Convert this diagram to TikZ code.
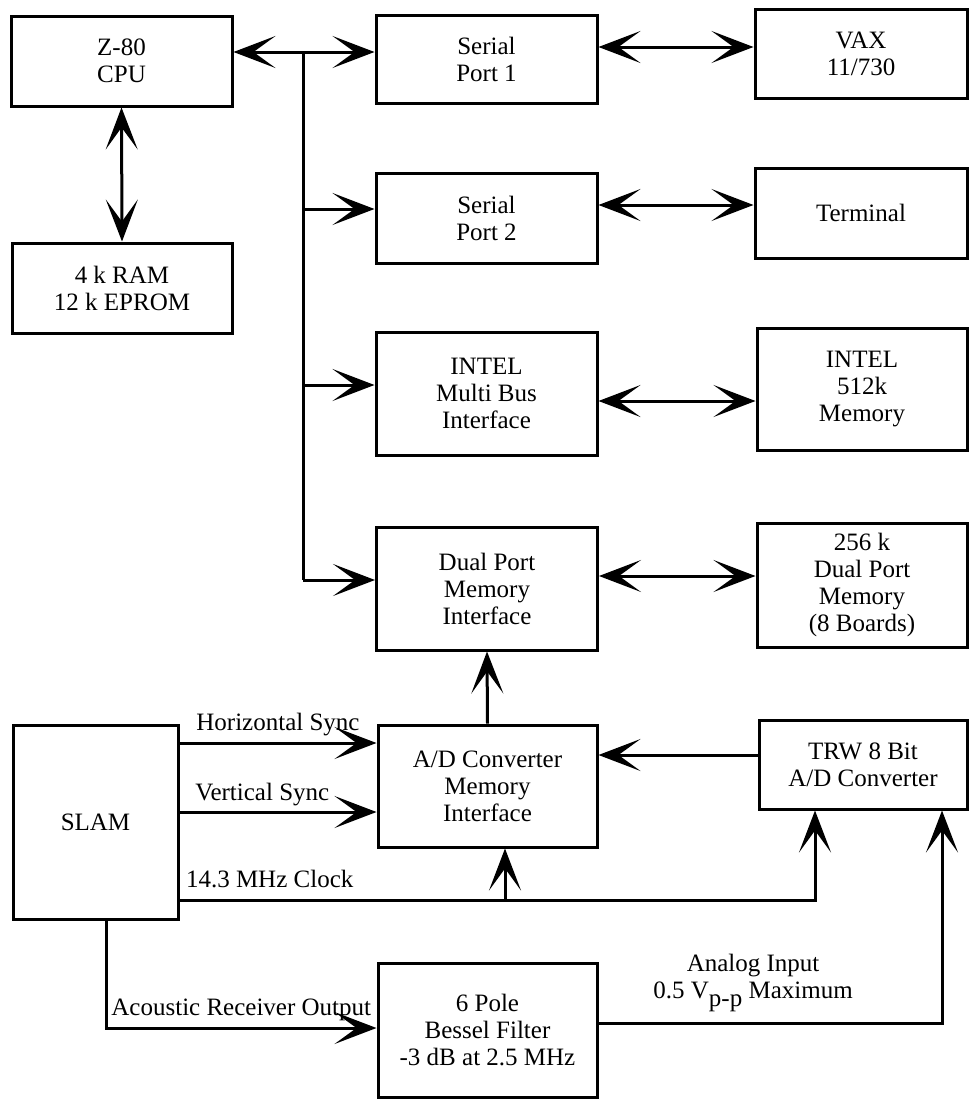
\documentclass[tikz,border=0pt]{standalone}
\usepackage{fontspec}
\setmainfont{Liberation Serif}
\usetikzlibrary{arrows.meta,positioning}

\tikzset{
  blk/.style={draw,line width=3pt,align=center,inner sep=0pt,font=\fontsize{25}{27}\selectfont},
  lbl/.style={align=center,inner sep=0pt,font=\fontsize{25}{27}\selectfont}
}

\begin{document}
\begin{tikzpicture}[x=1pt,y=-1pt,line width=3pt,>={Stealth[length=42pt,width=32pt,inset=22pt]}]
    \useasboundingbox (0,0) rectangle (973,1100);
    \node[blk,minimum width=221pt,minimum height=90pt] (cpu) at (121.5,61) {Z-80\\CPU};
    \node[blk,minimum width=220pt,minimum height=90pt] (ram) at (122,288) {4 k RAM\\12 k EPROM};
    \node[blk,minimum width=221pt,minimum height=88pt] (sp1) at (486.5,59) {Serial\\Port 1};
    \node[blk,minimum width=212pt,minimum height=89pt] (vax) at (861,53.5) {VAX\\11/730};
    \node[blk,minimum width=221pt,minimum height=90pt] (sp2) at (486.5,218) {Serial\\Port 2};
    \node[blk,minimum width=212pt,minimum height=90pt] (term) at (861,213) {Terminal};
    \node[blk,minimum width=221pt,minimum height=123pt] (mbi) at (486.5,393.5) {INTEL\\Multi Bus\\Interface};
    \node[blk,minimum width=210pt,minimum height=122pt] (intel) at (862,389) {INTEL\\512k\\Memory};
    \node[blk,minimum width=221pt,minimum height=123pt] (dpi) at (487,588.5) {Dual Port\\Memory\\Interface};
    \node[blk,minimum width=210pt,minimum height=124pt] (dpm) at (862,585) {256 k\\Dual Port\\Memory\\(8 Boards)};
    \node[blk,minimum width=219pt,minimum height=122pt] (adi) at (487.5,786) {A/D Converter\\Memory\\Interface};
    \node[blk,minimum width=208pt,minimum height=89pt] (trw) at (863,764.5) {TRW 8 Bit\\A/D Converter};
    \node[blk,minimum width=165pt,minimum height=194pt] (slam) at (95.5,822) {SLAM};
    \node[blk,minimum width=219pt,minimum height=134pt] (bes) at (487.5,1030) {6 Pole\\Bessel Filter\\-3 dB at 2.5 MHz};

    \coordinate (b1) at (303,52);
    \coordinate (b2) at (303,209);
    \coordinate (b3) at (303,385);
    \coordinate (b4) at (303,580);
    \coordinate (hs) at (0,743);
    \coordinate (vs) at (0,812);
    \coordinate (clk) at (815,900);
    \coordinate (ck2) at (505,900);
    \coordinate (aco) at (106,1028);
    \coordinate (ana) at (942,1023);

    \draw[<->] (cpu.south) -- (ram.north);
    \draw[<->] (cpu.east |- b1) -- (sp1.west |- b1);
    \draw (b1) -- (b4);
    \draw[->] (b2) -- (b2 -| sp2.west);
    \draw[->] (b3) -- (b3 -| mbi.west);
    \draw[->] (b4) -- (b4 -| dpi.west);

    \draw[<->] ([yshift=12pt]sp1.east) -- ([yshift=12pt]sp1.east -| vax.west);
    \draw[<->] ([yshift=13pt]sp2.east) -- ([yshift=13pt]sp2.east -| term.west);
    \draw[<->] ([yshift=-7.5pt]mbi.east) -- ([yshift=-7.5pt]mbi.east -| intel.west);
    \draw[<->] ([yshift=12.5pt]dpi.east) -- ([yshift=12.5pt]dpi.east -| dpm.west);

    \draw[->] (adi.north) -- (dpi.south);
    \draw[->] ([yshift=9.5pt]trw.west) -- ([yshift=9.5pt]trw.west -| adi.east);
    \draw[->] (slam.east |- hs) -- node[lbl,above=6pt] {Horizontal Sync} (adi.west |- hs);
    \draw[->] (slam.east |- vs) -- node[lbl,pos=0.42,above=5pt] {Vertical Sync} (adi.west |- vs);
    \draw[->] (slam.east |- clk) -- (clk) -- (clk |- trw.south);
    \node[lbl,above right=11pt and 5pt of {slam.east |- clk}] (clklbl) {14.3 MHz Clock};
    \draw[->] (ck2) -- (ck2 |- adi.south);
    \draw[->] (aco |- slam.south) -- (aco) -- node[lbl,above=6pt] {Acoustic Receiver Output} (aco -| bes.west);
    \draw[->] (bes.east |- ana) -- node[lbl,pos=0.45,above=10pt] {Analog Input\\0.5 V\raisebox{-8pt}{p-p} Maximum} (ana) -- (ana |- trw.south);
\end{tikzpicture}
\end{document}
